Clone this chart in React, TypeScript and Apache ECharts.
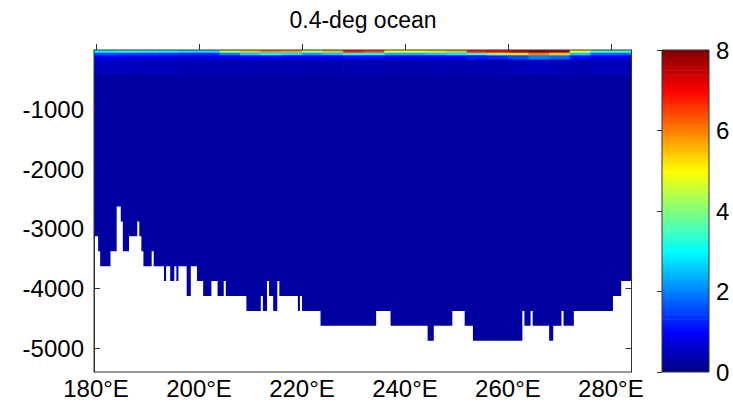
import React, { useEffect, useRef } from "react";
import * as echarts from "echarts";

// Section of an ocean field along the equatorial band, 0.4-degree model grid.
const titleText = "0.4-deg ocean";
const lonTicks = [180, 200, 220, 240, 260, 280];
const depthTicks = [-5000, -4000, -3000, -2000, -1000];
const colorTicks = [0, 2, 4, 6, 8];

const lonMin = 179.6;
const lonMax = 284;
const depthMin = -5400;
const depthMax = 0;
const valueMin = 0;
const valueMax = 8;

// Upper-ocean columns (°E) and layer tops (m)
const columnEdges = [
  179.6, 184, 188, 192, 196, 200, 204, 208, 212, 216, 220, 224, 228, 232,
  236, 240, 244, 248, 252, 256, 260, 264, 268, 272, 276, 280, 284,
];
const layerTops = [0, -45, -90, -160, -400];

// Values per column for each upper layer
const layer0to45 = [
  3.0, 3.2, 3.2, 3.0, 2.8, 2.8, 4.5, 5.5, 6.0, 5.8, 4.5, 5.5, 6.8, 6.5,
  5.0, 5.0, 5.2, 5.5, 6.8, 7.0, 7.5, 8.0, 7.8, 5.0, 3.5, 3.5,
];
const layer45to90 = [
  1.6, 1.5, 1.5, 1.4, 1.3, 1.3, 2.0, 2.6, 3.0, 2.8, 2.2, 2.6, 3.4, 3.2,
  2.4, 2.4, 2.6, 2.8, 3.6, 4.2, 5.2, 6.0, 5.4, 2.6, 1.8, 1.8,
];
const layer90to160 = [
  0.9, 0.9, 0.9, 0.8, 0.8, 0.8, 0.9, 1.0, 1.0, 1.0, 0.9, 1.0, 1.1, 1.1,
  0.9, 0.9, 1.0, 1.0, 1.2, 1.3, 1.6, 2.0, 1.8, 1.1, 0.9, 0.9,
];
const layer160to400 = [
  0.5, 0.5, 0.45, 0.45, 0.4, 0.4, 0.4, 0.4, 0.4, 0.4, 0.38, 0.38, 0.4, 0.4,
  0.38, 0.38, 0.38, 0.38, 0.4, 0.4, 0.45, 0.5, 0.45, 0.4, 0.45, 0.45,
];
const abyssValue = 0.27;

// Model bottom: segment start longitudes (°E) and bottom depth (m)
const bathyEdges = [
  179.6, 180.4, 180.8, 182.8, 184.0, 184.8, 185.2, 186.4, 188.0, 188.4,
  188.8, 189.2, 190.8, 191.2, 193.2, 193.6, 194.4, 195.2, 195.6, 196.0,
  197.6, 198.4, 199.6, 200.8, 202.4, 203.6, 204.8, 205.2, 209.2, 212.0,
  212.4, 213.2, 213.6, 214.4, 215.2, 215.6, 219.2, 219.6, 220.0, 223.6,
  234.4, 237.2, 244.4, 245.6, 249.2, 251.6, 253.2, 262.8, 263.2, 264.4,
  264.8, 268.0, 268.8, 270.4, 270.8, 272.8, 280.4, 282.0, 284.0,
];
const bathyDepth = [
  -3125, -3375, -3625, -3375, -2625, -2875, -3375, -3125, -2875, -3125,
  -3375, -3625, -3375, -3625, -3875, -3625, -3875, -3625, -3875, -3625,
  -4125, -3625, -3875, -4125, -3875, -4125, -3875, -4125, -4375, -4125,
  -4375, -3875, -4125, -4375, -3875, -4125, -4375, -4125, -4375, -4625,
  -4375, -4625, -4875, -4625, -4375, -4625, -4875, -4375, -4625, -4375,
  -4625, -4875, -4625, -4375, -4625, -4375, -4125, -3875,
];

const jetColors = [
  "#000080", "#0000ff", "#0080ff", "#00ffff", "#80ff80",
  "#ffff00", "#ff8000", "#ff0000", "#800000",
];

const FONT = "Liberation Sans, Arial, Helvetica, sans-serif";

function buildUpperCells(): number[][] {
  const upper = [layer0to45, layer45to90, layer90to160, layer160to400];
  const cells: number[][] = [];
  for (let c = 0; c < columnEdges.length - 1; c++) {
    for (let l = 0; l < upper.length; l++) {
      cells.push([columnEdges[c], columnEdges[c + 1], layerTops[l], layerTops[l + 1], upper[l][c]]);
    }
  }
  return cells;
}

function buildColorbar(): number[][] {
  const steps = 128;
  const strips: number[][] = [];
  const span = valueMax - valueMin;
  for (let i = 0; i < steps; i++) {
    const a = valueMin + (span * i) / steps;
    const b = valueMin + (span * (i + 1)) / steps;
    strips.push([0, 1, a, b, (a + b) / 2]);
  }
  return strips;
}

// Rectangular cell, stretched slightly right and down so that neighbours
// drawn later overlap it and no hairline gaps show.
const cellRenderer = (_params: any, api: any) => {
  const p0 = api.coord([api.value(0), api.value(2)]);
  const p1 = api.coord([api.value(1), api.value(3)]);
  return {
    type: "rect",
    shape: {
      x: Math.min(p0[0], p1[0]),
      y: Math.min(p0[1], p1[1]),
      width: Math.abs(p1[0] - p0[0]) + 0.7,
      height: Math.abs(p1[1] - p0[1]) + 0.7,
    },
    style: { fill: api.visual("color") },
  };
};

// Deep water from the base of the upper layers down to the stepped model bottom.
const deepTop = layerTops[layerTops.length - 1];
const deepRenderer = (_params: any, api: any) => {
  const pts: number[][] = [
    api.coord([lonMin, deepTop]),
    api.coord([lonMax, deepTop]),
  ];
  for (let s = bathyDepth.length - 1; s >= 0; s--) {
    pts.push(api.coord([bathyEdges[s + 1], bathyDepth[s]]));
    pts.push(api.coord([bathyEdges[s], bathyDepth[s]]));
  }
  return {
    type: "polygon",
    shape: { points: pts },
    style: { fill: api.visual("color") },
  };
};

export default function App() {
  const ref = useRef<HTMLDivElement>(null);

  useEffect(() => {
    document.body.style.margin = "0";
    if (!ref.current) return;
    const chart = echarts.init(ref.current, undefined, { renderer: "svg" });

    const axisLineColor = "#333";
    const labelStyle = { color: "#000", fontSize: 24, fontFamily: FONT };
    const plain = (v: number) => String(v);
    const minBottom = Math.min(...bathyDepth);

    chart.setOption({
      animation: false,
      backgroundColor: "#fff",
      graphic: [
        {
          type: "text",
          x: 363,
          y: 8,
          style: {
            text: titleText,
            fill: "#000",
            font: `23px ${FONT}`,
            textAlign: "center",
            textVerticalAlign: "top",
          },
        },
      ],
      grid: [
        {
          left: 94,
          top: 50,
          width: 537.5,
          height: 322,
          show: true,
          z: 10,
          backgroundColor: "transparent",
          borderColor: axisLineColor,
          borderWidth: 1,
        },
        {
          left: 662,
          top: 50,
          width: 47,
          height: 322,
          show: true,
          z: 10,
          backgroundColor: "transparent",
          borderColor: axisLineColor,
          borderWidth: 1,
        },
      ],
      xAxis: [
        {
          type: "value",
          gridIndex: 0,
          position: "bottom",
          min: lonMin,
          max: lonMax,
          splitLine: { show: false },
          axisLine: { show: true, lineStyle: { color: axisLineColor } },
          axisTick: {
            show: true,
            inside: true,
            length: 6,
            customValues: lonTicks,
            lineStyle: { color: axisLineColor },
          },
          axisLabel: {
            ...labelStyle,
            margin: 4,
            customValues: lonTicks,
            formatter: (v: number) => `${v}°E`,
          },
        },
        {
          type: "value",
          gridIndex: 0,
          position: "top",
          min: lonMin,
          max: lonMax,
          splitLine: { show: false },
          axisLine: { show: true, lineStyle: { color: axisLineColor } },
          axisTick: {
            show: true,
            inside: true,
            length: 6,
            customValues: lonTicks,
            lineStyle: { color: axisLineColor },
          },
          axisLabel: { show: false },
        },
        {
          type: "value",
          gridIndex: 1,
          min: 0,
          max: 1,
          show: false,
        },
      ],
      yAxis: [
        {
          type: "value",
          gridIndex: 0,
          position: "left",
          min: depthMin,
          max: depthMax,
          splitLine: { show: false },
          axisLine: { show: true, lineStyle: { color: axisLineColor } },
          axisTick: {
            show: true,
            inside: true,
            length: 6,
            customValues: depthTicks,
            lineStyle: { color: axisLineColor },
          },
          axisLabel: { ...labelStyle, margin: 10, customValues: depthTicks, formatter: plain },
        },
        {
          type: "value",
          gridIndex: 0,
          position: "right",
          min: depthMin,
          max: depthMax,
          splitLine: { show: false },
          axisLine: { show: true, lineStyle: { color: axisLineColor } },
          axisTick: {
            show: true,
            inside: true,
            length: 6,
            customValues: depthTicks,
            lineStyle: { color: axisLineColor },
          },
          axisLabel: { show: false },
        },
        {
          type: "value",
          gridIndex: 1,
          position: "right",
          min: valueMin,
          max: valueMax,
          interval: 2,
          z: 10,
          splitLine: { show: false },
          axisLine: { show: false },
          axisTick: {
            show: true,
            inside: true,
            length: 5,
            customValues: colorTicks,
            lineStyle: { color: axisLineColor },
          },
          axisLabel: { ...labelStyle, margin: 7, customValues: colorTicks, formatter: plain },
        },
      ],
      visualMap: {
        type: "continuous",
        show: false,
        min: valueMin,
        max: valueMax,
        dimension: 4,
        seriesIndex: [0, 1, 2],
        inRange: { color: jetColors },
      },
      series: [
        {
          type: "custom",
          name: "deep",
          xAxisIndex: 0,
          yAxisIndex: 0,
          renderItem: deepRenderer,
          encode: { x: [0, 1], y: [2, 3] },
          data: [[lonMin, lonMax, deepTop, minBottom, abyssValue]],
          clip: true,
          silent: true,
        },
        {
          type: "custom",
          name: "upper",
          xAxisIndex: 0,
          yAxisIndex: 0,
          renderItem: cellRenderer,
          encode: { x: [0, 1], y: [2, 3] },
          data: buildUpperCells(),
          clip: true,
          silent: true,
        },
        {
          type: "custom",
          name: "colorbar",
          xAxisIndex: 2,
          yAxisIndex: 2,
          renderItem: cellRenderer,
          encode: { x: [0, 1], y: [2, 3] },
          data: buildColorbar(),
          clip: true,
          silent: true,
        },
      ],
    });

    return () => chart.dispose();
  }, []);

  return <div ref={ref} style={{ width: 733, height: 407 }} />;
}
